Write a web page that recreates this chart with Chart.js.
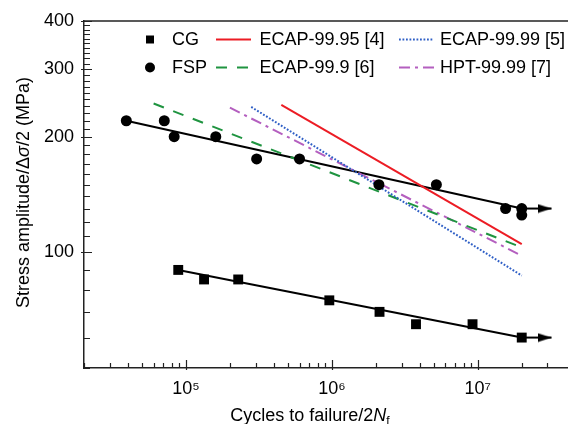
<!doctype html>
<html lang="en">
<head>
<meta charset="utf-8">
<title>S-N curves</title>
<script src="https://cdn.jsdelivr.net/npm/chart.js@4.4.1/dist/chart.umd.min.js"></script>
<style>
  html, body { margin: 0; padding: 0; background: #fff; }
  #chartBox { position: relative; width: 568px; height: 424px; }
</style>
</head>
<body>
<div id="chartBox"><canvas id="snChart"></canvas></div>
<script>
// test points: cycles to failure (2Nf) and stress amplitude (MPa)
const cgCycles = [8.85e4, 1.33e5, 2.28e5, 9.6e5, 2.12e6, 3.77e6, 9.2e6, 2e7];
const cgStress = [90, 85, 85, 75, 70, 65, 65, 60];
const fspCycles = [3.9e4, 7.1e4, 8.3e4, 1.6e5, 3.05e5, 6e5, 2.1e6, 5.2e6, 1.55e7, 2e7, 2e7];
const fspStress = [220, 220, 200, 200, 175, 175, 150, 150, 130, 130, 125];

// fitted Basquin lines
const cgFitCycles = [8.85e4, 2e7];
const cgFitStress = [90, 60];
const fspFitCycles = [3.9e4, 2e7];
const fspFitStress = [220, 130];

// run-out arrows
const runoutCycles = [2e7, 3.2e7];
const cgRunoutStress = [60, 60];
const fspRunoutStress = [130, 130];

// literature curves
const ecap9995Cycles = [4.5e5, 2e7];
const ecap9995Stress = [242, 105];
const ecap9999Cycles = [2.8e5, 2e7];
const ecap9999Stress = [239, 87];
const ecap999Cycles = [6e4, 2e7];
const ecap999Stress = [244, 103];
const hpt9999Cycles = [2e5, 2e7];
const hpt9999Stress = [238, 98];

// axes
const xMin = 2e4, xMax = 4.15e7;
const yMin = 50, yMax = 400;
const xTickValues = [2e4, 3e4, 4e4, 5e4, 6e4, 7e4, 8e4, 9e4,
  1e5, 2e5, 3e5, 4e5, 5e5, 6e5, 7e5, 8e5, 9e5,
  1e6, 2e6, 3e6, 4e6, 5e6, 6e6, 7e6, 8e6, 9e6,
  1e7, 2e7, 3e7];
const xMajorTicks = [1e5, 1e6, 1e7];
const xTickLabels = ['10\u2075', '10\u2076', '10\u2077'];
const yTickValues = [50, 60, 70, 80, 90, 100, 110, 120, 130, 140, 150, 160, 170, 180, 190,
  200, 210, 220, 230, 240, 250, 260, 270, 280, 290,
  300, 310, 320, 330, 340, 350, 360, 370, 380, 390, 400];
const yMajorTicks = [100, 200, 300, 400];
const yTickLabels = ['100', '200', '300', '400'];

const FONT = '"Liberation Sans", Arial, sans-serif';
Chart.defaults.font.family = FONT;
Chart.defaults.font.size = 18;
Chart.defaults.color = '#000';

const toXY = (xs, ys) => xs.map((x, i) => ({x: x, y: ys[i]}));

// arrow head used as point style (tip sits on the data point)
function makeArrowHead() {
  const c = document.createElement('canvas');
  c.width = 28; c.height = 10;
  const g = c.getContext('2d');
  g.fillStyle = '#000';
  g.beginPath();
  g.moveTo(0, 0.5); g.lineTo(14, 5); g.lineTo(0, 9.5);
  g.closePath(); g.fill();
  return c;
}
const arrowHead = makeArrowHead();

const refLine = (label, xs, ys, color, dash) => ({
  label: label, data: toXY(xs, ys), showLine: true,
  borderColor: color, backgroundColor: color, borderWidth: 2,
  borderDash: dash, pointRadius: 0, fill: false
});
const blackLine = (label, xs, ys) => ({
  label: label, data: toXY(xs, ys), showLine: true,
  borderColor: '#000', borderWidth: 2, pointRadius: 0
});
const runout = (label, ys) => ({
  label: label, data: toXY(runoutCycles, ys), showLine: true,
  borderColor: '#000', borderWidth: 2,
  pointStyle: ['circle', arrowHead], pointRadius: [0, 5]
});

const datasets = [
  {label: 'CG', data: toXY(cgCycles, cgStress), pointStyle: 'rect', pointRadius: 7,
   backgroundColor: '#000', borderColor: '#000', borderWidth: 0},
  {label: 'FSP', data: toXY(fspCycles, fspStress), pointStyle: 'circle', pointRadius: 5.5,
   backgroundColor: '#000', borderColor: '#000', borderWidth: 0},
  refLine('ECAP-99.95 [4]', ecap9995Cycles, ecap9995Stress, '#ec1c24', []),
  refLine('ECAP-99.99 [5]', ecap9999Cycles, ecap9999Stress, '#2f5fc6', [1.8, 1.7]),
  refLine('ECAP-99.9 [6]', ecap999Cycles, ecap999Stress, '#1f9440', [11, 10]),
  refLine('HPT-99.99 [7]', hpt9999Cycles, hpt9999Stress, '#b45fbf', [11, 5, 3, 5]),
  blackLine('CG fit', cgFitCycles, cgFitStress),
  blackLine('FSP fit', fspFitCycles, fspFitStress),
  runout('CG run-out', cgRunoutStress),
  runout('FSP run-out', fspRunoutStress)
];

// legend slots: column/row for each legend entry
const legendSlots = {
  'CG': [0, 0], 'ECAP-99.95 [4]': [1, 0], 'ECAP-99.99 [5]': [2, 0],
  'FSP': [0, 1], 'ECAP-99.9 [6]': [1, 1], 'HPT-99.99 [7]': [2, 1]
};

function partFont(p) {
  return (p.italic ? 'italic ' : '') + (p.sub ? 12 : 18) + 'px ' + FONT;
}
function drawRich(ctx, parts, cx, base) {
  let w = 0;
  parts.forEach(p => { ctx.font = partFont(p); w += ctx.measureText(p.text).width; });
  let x = cx - w / 2;
  parts.forEach(p => {
    ctx.font = partFont(p);
    ctx.fillText(p.text, x, base + (p.sub ? 4 : 0));
    x += ctx.measureText(p.text).width;
  });
}

const decor = {
  id: 'decor',
  afterDraw(chart) {
    const {ctx, chartArea: a, scales: {x, y}} = chart;
    ctx.save();
    // top frame line and inward ticks
    ctx.strokeStyle = '#222';
    ctx.lineWidth = 1.5;
    ctx.beginPath();
    ctx.moveTo(a.left, a.top); ctx.lineTo(a.right, a.top);
    ctx.stroke();
    ctx.lineWidth = 1.2;
    ctx.beginPath();
    x.ticks.forEach(t => {
      const px = Math.round(x.getPixelForValue(t.value)) + 0.5;
      const major = xMajorTicks.includes(t.value);
      ctx.moveTo(px, a.bottom + (major ? 2 : 0));
      ctx.lineTo(px, a.bottom - (major ? 8 : 5));
    });
    y.ticks.forEach(t => {
      const py = Math.round(y.getPixelForValue(t.value)) + 0.5;
      const major = yMajorTicks.includes(t.value);
      ctx.moveTo(a.left - (major ? 3 : 0), py);
      ctx.lineTo(a.left + (major ? 8 : 6), py);
    });
    ctx.stroke();

    // axis titles
    ctx.fillStyle = '#000';
    ctx.textBaseline = 'alphabetic';
    ctx.textAlign = 'left';
    drawRich(ctx, [{text: 'Cycles to failure/2'}, {text: 'N', italic: true}, {text: 'f', sub: true}], 310, 420.5);
    ctx.save();
    ctx.translate(29, 192.5);
    ctx.rotate(-Math.PI / 2);
    drawRich(ctx, [{text: 'Stress amplitude/\u0394'}, {text: '\u03c3', italic: true}, {text: '/2 (MPa)'}], 0, 0);
    ctx.restore();

    // legend
    const rowY = [39.5, 67.5];
    const lineX = [null, [216, 251], [399, 434]];
    const textX = [172, 259.5, 440];
    ctx.font = '18px ' + FONT;
    ctx.textBaseline = 'middle';
    chart.data.datasets.forEach(ds => {
      const slot = legendSlots[ds.label];
      if (!slot) return;
      const [col, row] = slot;
      const cy = rowY[row];
      if (col === 0) {
        ctx.fillStyle = '#000';
        ctx.beginPath();
        if (ds.pointStyle === 'rect') ctx.rect(146, cy - 4, 8, 8);
        else ctx.arc(150, cy, 5, 0, Math.PI * 2);
        ctx.fill();
      } else {
        ctx.strokeStyle = ds.borderColor;
        ctx.lineWidth = ds.borderWidth;
        ctx.setLineDash(ds.borderDash);
        ctx.beginPath();
        ctx.moveTo(lineX[col][0], cy); ctx.lineTo(lineX[col][1], cy);
        ctx.stroke();
        ctx.setLineDash([]);
      }
      ctx.fillStyle = '#000';
      ctx.fillText(ds.label, textX[col], cy + 1);
    });
    ctx.restore();
  }
};

new Chart(document.getElementById('snChart'), {
  type: 'scatter',
  data: {datasets: datasets},
  options: {
    responsive: true,
    maintainAspectRatio: false,
    animation: false,
    events: [],
    layout: {autoPadding: false, padding: {top: 21, right: 0, left: 0, bottom: 0}},
    plugins: {legend: {display: false}, tooltip: {enabled: false}},
    scales: {
      x: {
        type: 'logarithmic', min: xMin, max: xMax,
        afterBuildTicks: s => { s.ticks = xTickValues.map(v => ({value: v})); },
        afterFit: s => { s.height = 56; },
        grid: {display: false, drawTicks: false, tickLength: 0},
        border: {color: '#222', width: 1.5},
        ticks: {
          autoSkip: false, maxRotation: 0, padding: 10,
          callback: v => { const i = xMajorTicks.indexOf(v); return i >= 0 ? xTickLabels[i] : ''; }
        }
      },
      y: {
        type: 'logarithmic', min: yMin, max: yMax,
        afterBuildTicks: s => { s.ticks = yTickValues.map(v => ({value: v})); },
        afterFit: s => { s.width = 84; },
        grid: {display: false, drawTicks: false, tickLength: 0},
        border: {color: '#222', width: 1.5},
        ticks: {
          autoSkip: false, padding: 10,
          callback: v => { const i = yMajorTicks.indexOf(v); return i >= 0 ? yTickLabels[i] : ''; }
        }
      }
    }
  },
  plugins: [decor]
});
</script>
</body>
</html>
